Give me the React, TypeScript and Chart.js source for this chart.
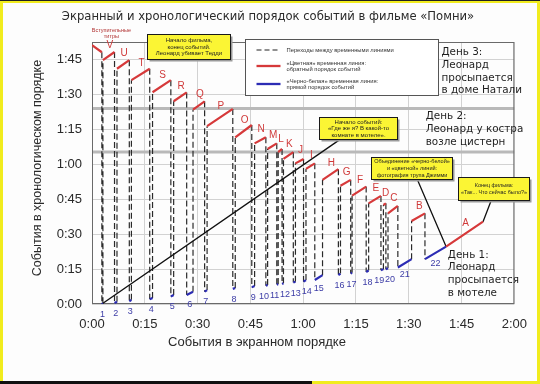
import React, { useEffect, useRef } from "react";
import { Chart, registerables } from "chart.js";

Chart.register(...registerables);

// ---------- data (minutes) ----------
const xTickValues = [0, 15, 30, 45, 60, 75, 90, 105, 120];
const yTickValues = [0, 15, 30, 45, 60, 75, 90, 105];

const creditsScreen = [0, 2.8];
const creditsChrono = [111.3, 108.3];

const colorLabels = ["V", "U", "T", "S", "R", "Q", "P", "O", "N", "M", "L", "K", "J", "I", "H", "G", "F", "E", "D", "C", "B", "A"];
const colorScreenStart = [3.1, 7.1, 11.2, 17.2, 23.2, 28.7, 32.7, 40.7, 46.2, 49.9, 52.9, 54.4, 57.8, 60.8, 65.5, 70.6, 73.9, 78.6, 82.8, 84.1, 90.8, 100.6];
const colorScreenEnd = [6.4, 10.6, 16.4, 22.4, 26.9, 32.0, 40.0, 45.4, 49.4, 52.5, 54.0, 57.2, 60.1, 63.3, 70.0, 73.5, 77.9, 82.1, 83.5, 86.9, 94.6, 111.1];
const colorChronoStart = [104.9, 101.2, 96.3, 91.1, 87.2, 83.6, 76.5, 71.7, 69.1, 66.7, 65.3, 62.4, 60.5, 58.1, 53.4, 50.9, 46.6, 43.3, 42.6, 39.0, 35.7, 24.7];
const colorChronoEnd = [108.4, 104.9, 101.2, 96.3, 91.0, 87.2, 83.9, 77.0, 71.7, 69.1, 66.7, 65.3, 62.4, 60.5, 58.0, 53.4, 50.5, 46.5, 43.3, 42.2, 39.0, 35.4];

const bwLabels = ["1", "2", "3", "4", "5", "6", "7", "8", "9", "10", "11", "12", "13", "14", "15", "16", "17", "18", "19", "20", "21", "22"];
const bwScreenStart = [2.8, 6.4, 10.6, 16.4, 22.4, 26.9, 32.0, 40.0, 45.4, 49.4, 52.5, 54.0, 57.2, 60.1, 63.3, 70.0, 73.5, 77.9, 82.1, 83.5, 86.9, 94.6];
const bwScreenEnd = [3.1, 7.1, 11.2, 17.2, 23.2, 28.7, 32.7, 40.7, 46.2, 49.9, 52.9, 54.4, 57.8, 60.8, 65.5, 70.6, 73.9, 78.6, 82.8, 84.1, 90.8, 100.6];
const bwChronoStart = [0, 0.4, 1.2, 2.0, 3.2, 3.9, 5.3, 6.5, 7.2, 7.9, 8.3, 8.6, 9.2, 9.6, 10.3, 12.4, 13.1, 13.8, 14.5, 15.0, 15.7, 19.3];
const bwChronoEnd = [0.3, 1.0, 1.8, 2.6, 3.9, 5.3, 6.0, 6.9, 7.7, 8.2, 8.6, 8.9, 9.6, 10.3, 12.4, 13.1, 13.4, 14.4, 15.0, 15.4, 19.3, 24.7];

const daySeparators = [84.1, 65.4];

// pointer lines of the callouts: [screen, chrono] pairs
const pointerStartScreen = [2.8, 92.4, 113.5];
const pointerStartChrono = [0, 53.7, 44.8];
const pointerEndScreen = [70.3, 100.6, 111.1];
const pointerEndChrono = [70.6, 24.7, 35.4];

// ---------- helpers ----------
const fmt = (m: number) => `${Math.floor(m / 60)}:${String(Math.round(m % 60)).padStart(2, "0")}`;

type P = { x: number; y: number | null };

function buildRed(): P[] {
  const pts: P[] = [];
  pts.push({ x: creditsScreen[0], y: creditsChrono[0] }, { x: creditsScreen[1], y: creditsChrono[1] }, { x: creditsScreen[1], y: null });
  colorLabels.forEach((_, i) => {
    pts.push({ x: colorScreenStart[i], y: colorChronoStart[i] }, { x: colorScreenEnd[i], y: colorChronoEnd[i] }, { x: colorScreenEnd[i], y: null });
  });
  return pts;
}

function buildBlue(): P[] {
  const pts: P[] = [];
  bwLabels.forEach((_, i) => {
    pts.push({ x: bwScreenStart[i], y: bwChronoStart[i] }, { x: bwScreenEnd[i], y: bwChronoEnd[i] }, { x: bwScreenEnd[i], y: null });
  });
  return pts;
}

function buildTransitions(): P[] {
  const pts: P[] = [];
  bwLabels.forEach((_, i) => {
    const prevEndX = i === 0 ? creditsScreen[1] : colorScreenEnd[i - 1];
    const prevEndY = i === 0 ? creditsChrono[1] : colorChronoEnd[i - 1];
    pts.push({ x: prevEndX, y: prevEndY }, { x: bwScreenStart[i], y: bwChronoStart[i] }, { x: bwScreenStart[i], y: null });
    if (i < colorLabels.length - 1) {
      pts.push({ x: bwScreenEnd[i], y: bwChronoEnd[i] }, { x: colorScreenStart[i], y: colorChronoStart[i] }, { x: colorScreenStart[i], y: null });
    }
  });
  return pts;
}

function buildPointers(): P[] {
  const pts: P[] = [];
  pointerStartScreen.forEach((_, i) => {
    pts.push({ x: pointerStartScreen[i], y: pointerStartChrono[i] }, { x: pointerEndScreen[i], y: pointerEndChrono[i] }, { x: pointerEndScreen[i], y: null });
  });
  return pts;
}

const RED = "#d6393a";
const BLUE = "#2c2cb4";
const SANS = "'Liberation Sans', Arial, sans-serif";
const DEJ = "'DejaVu Sans', sans-serif";

const overlay = {
  id: "overlay",
  beforeDatasetsDraw(chart: any) {
    const { ctx, chartArea: a, scales } = chart;
    const y = scales.y;
    ctx.save();
    ctx.strokeStyle = "#b9b9b9";
    ctx.lineWidth = 3;
    daySeparators.forEach((c) => {
      const py = y.getPixelForValue(c);
      ctx.beginPath();
      ctx.moveTo(a.left, py);
      ctx.lineTo(a.right, py);
      ctx.stroke();
    });
    ctx.strokeStyle = "#6a6a6a";
    ctx.lineWidth = 1;
    ctx.strokeRect(a.left + 0.5, a.top + 0.5, a.right - a.left - 1, a.bottom - a.top - 1);
    ctx.restore();
  },
  afterDatasetsDraw(chart: any) {
    const { ctx, scales } = chart;
    const X = (v: number) => scales.x.getPixelForValue(v);
    const Y = (v: number) => scales.y.getPixelForValue(v);
    ctx.save();

    // colour scene letters
    ctx.font = `10px ${SANS}`;
    ctx.fillStyle = "#d03a3a";
    ctx.textAlign = "center";
    ctx.textBaseline = "middle";
    colorLabels.forEach((s, i) => {
      const mx = (X(colorScreenStart[i]) + X(colorScreenEnd[i])) / 2;
      const my = (Y(colorChronoStart[i]) + Y(colorChronoEnd[i])) / 2;
      ctx.fillText(s, mx + 1, my - 11);
    });

    // b/w scene numbers (spread to avoid overlap)
    ctx.font = `9px ${SANS}`;
    ctx.fillStyle = "#3c3ca6";
    const items = bwLabels.map((s, i) => ({
      s,
      x: (X(bwScreenStart[i]) + X(bwScreenEnd[i])) / 2,
      y: (Y(bwChronoStart[i]) + Y(bwChronoEnd[i])) / 2 + 11,
      w: ctx.measureText(s).width,
    }));
    for (let it = 0; it < 40; it++) {
      for (let i = 1; i < items.length; i++) {
        const p = items[i - 1], q = items[i];
        const need = (p.w + q.w) / 2 + 0.8;
        const d = q.x - p.x;
        if (d < need && Math.abs(q.y - p.y) < 9) {
          const sh = (need - d) / 2;
          p.x -= sh;
          q.x += sh;
        }
      }
    }
    items.forEach((it) => ctx.fillText(it.s, it.x, it.y));

    // opening credits label
    ctx.font = `5.5px ${SANS}`;
    ctx.fillStyle = "#b03030";
    ctx.fillText("Вступительные", X(5.5), Y(117.6));
    ctx.fillText("титры", X(5.5), Y(115.0));

    // callouts
    const callouts = [
      { t0: 15.7, c0: 116.2, t1: 39.3, c1: 105.4, lines: ["Начало фильма,", "конец событий.", "Леонард убивает Тедди"] },
      { t0: 64.4, c0: 80.6, t1: 86.8, c1: 70.9, lines: ["Начало событий:", "«Где же я? В какой-то", "комнате в мотеле»."] },
      { t0: 79.3, c0: 63.1, t1: 102.2, c1: 53.7, lines: ["Объединение «черно-белой»", "и «цветной» линий:", "фотография трупа Джимми"] },
      { t0: 103.9, c0: 54.5, t1: 124.3, c1: 44.8, lines: ["Конец фильма:", "«Так... Что сейчас было?»"] },
    ];
    callouts.forEach((c) => {
      const x0 = Math.round(X(c.t0)) + 0.5, y0 = Math.round(Y(c.c0)) + 0.5;
      const x1 = Math.round(X(c.t1)) + 0.5, y1 = Math.round(Y(c.c1)) + 0.5;
      ctx.fillStyle = "#9a9a9a";
      ctx.fillRect(x0 + 2, y0 + 2, x1 - x0, y1 - y0);
      ctx.fillStyle = "#fbf534";
      ctx.fillRect(x0, y0, x1 - x0, y1 - y0);
      ctx.strokeStyle = "#1a1a1a";
      ctx.lineWidth = 1;
      ctx.strokeRect(x0, y0, x1 - x0, y1 - y0);
      ctx.fillStyle = "#222";
      ctx.textAlign = "center";
      let size = 6;
      ctx.font = `${size}px ${SANS}`;
      const maxW = Math.max(...c.lines.map((l) => ctx.measureText(l).width));
      const avail = x1 - x0 - 5;
      if (maxW > avail) {
        size = (size * avail) / maxW;
        ctx.font = `${size}px ${SANS}`;
      }
      const lh = 6.6;
      const cy = (y0 + y1) / 2 - ((c.lines.length - 1) * lh) / 2;
      c.lines.forEach((l, k) => ctx.fillText(l, (x0 + x1) / 2, cy + k * lh));
    });

    // legend box
    const lx0 = Math.round(X(43.4)) + 0.5, ly0 = Math.round(Y(114.0)) + 0.5;
    const lx1 = Math.round(X(98.3)) + 0.5, ly1 = Math.round(Y(90.1)) + 0.5;
    ctx.fillStyle = "#ffffff";
    ctx.fillRect(lx0, ly0, lx1 - lx0, ly1 - ly0);
    ctx.strokeStyle = "#555";
    ctx.lineWidth = 1;
    ctx.strokeRect(lx0, ly0, lx1 - lx0, ly1 - ly0);
    const rows = [
      { color: "#222", dash: [5, 3], width: 1.2, dy: 10.5, lines: ["Переходы между временными линиями"] },
      { color: RED, dash: [], width: 2.3, dy: 26.5, lines: ["«Цветная» временная линия:", "обратный порядок событий"] },
      { color: BLUE, dash: [], width: 2.3, dy: 44.5, lines: ["«Черно-белая» временная линия:", "прямой порядок событий"] },
    ];
    rows.forEach((r) => {
      const yy = ly0 + r.dy;
      ctx.strokeStyle = r.color;
      ctx.lineWidth = r.width;
      ctx.setLineDash(r.dash);
      ctx.beginPath();
      ctx.moveTo(lx0 + 11, yy);
      ctx.lineTo(lx0 + 35, yy);
      ctx.stroke();
      ctx.setLineDash([]);
      ctx.fillStyle = "#333";
      ctx.font = `5.8px ${SANS}`;
      ctx.textAlign = "left";
      const lh = 6.2;
      const cy = yy - ((r.lines.length - 1) * lh) / 2;
      r.lines.forEach((l, k) => ctx.fillText(l, lx0 + 41, cy + k * lh));
    });

    // day captions
    ctx.fillStyle = "#1e1e1e";
    ctx.font = `10.4px ${DEJ}`;
    ctx.textAlign = "left";
    const days = [
      { t: 99.3, c: 108.3, lines: ["День 3:", "Леонард", "просыпается", "в доме Натали"] },
      { t: 94.8, c: 80.6, lines: ["День 2:", "Леонард у костра", "возле цистерн"] },
      { t: 101.1, c: 21.1, lines: ["День 1:", "Леонард", "просыпается", "в мотеле"] },
    ];
    days.forEach((d) => {
      d.lines.forEach((l, k) => ctx.fillText(l, X(d.t), Y(d.c) + k * 12.8));
    });
    ctx.restore();
  },
  afterDraw(chart: any) {
    const { ctx } = chart;
    ctx.save();
    ctx.fillStyle = "#2a2a2a";
    ctx.textBaseline = "middle";
    ctx.textAlign = "center";
    ctx.font = `11.6px ${DEJ}`;
    ctx.fillText("Экранный и хронологический порядок событий в фильме «Помни»", 268, 17);
    ctx.font = `13px ${SANS}`;
    ctx.fillText("События в экранном порядке", 257, 342);
    ctx.translate(38, 168);
    ctx.rotate(-Math.PI / 2);
    ctx.font = `12.5px ${SANS}`;
    ctx.fillText("События в хронологическом порядке", 0, 0);
    ctx.restore();
  },
};

export default function App() {
  const ref = useRef<HTMLCanvasElement>(null);
  useEffect(() => {
    const chart = new Chart(ref.current as HTMLCanvasElement, {
      type: "line",
      data: {
        datasets: [
          { label: "color", data: buildRed() as any, borderColor: RED, borderWidth: 2.2, pointRadius: 0, spanGaps: false, tension: 0 },
          { label: "bw", data: buildBlue() as any, borderColor: BLUE, borderWidth: 2.2, pointRadius: 0, spanGaps: false, tension: 0 },
          { label: "pointers", data: buildPointers() as any, borderColor: "#111", borderWidth: 1.3, pointRadius: 0, spanGaps: false, tension: 0 },
          { label: "transitions", data: buildTransitions() as any, borderColor: "#2a2a2a", borderWidth: 1.2, borderDash: [6, 3], pointRadius: 0, spanGaps: false, tension: 0 },
        ],
      },
      options: {
        animation: false,
        responsive: false,
        devicePixelRatio: 1,
        layout: { padding: { top: 42, right: 17, left: 0, bottom: 0 } },
        plugins: { legend: { display: false }, tooltip: { enabled: false } },
        scales: {
          x: {
            type: "linear",
            min: 0,
            max: 120,
            afterFit: (s: any) => { s.height = 80; },
            afterBuildTicks: (s: any) => { s.ticks = xTickValues.map((v) => ({ value: v })); },
            ticks: { callback: (v: any) => fmt(Number(v)), font: { family: SANS, size: 13 }, color: "#2a2a2a", padding: 13, maxRotation: 0, autoSkip: false },
            grid: { color: "#d2d2d2", lineWidth: 1, drawTicks: false },
            border: { display: false },
          },
          y: {
            type: "linear",
            min: 0,
            max: 112.7,
            afterFit: (s: any) => { s.width = 92; },
            afterBuildTicks: (s: any) => { s.ticks = yTickValues.map((v) => ({ value: v })); },
            ticks: { callback: (v: any) => fmt(Number(v)), font: { family: SANS, size: 13 }, color: "#2a2a2a", padding: 10, autoSkip: false },
            grid: { color: "#d2d2d2", lineWidth: 1, drawTicks: false },
            border: { display: false },
          },
        },
      },
      plugins: [overlay],
    } as any);
    return () => chart.destroy();
  }, []);

  return (
    <div style={{ position: "fixed", left: 0, top: 0, width: 540, height: 384, background: "#f1ec1e", overflow: "hidden" }}>
      <div style={{ position: "absolute", left: 0, top: 0, width: 540, height: 1, background: "#222" }} />
      <div style={{ position: "absolute", left: 3, top: 3, right: 3, bottom: 3, background: "#fdfdfd" }} />
      <div style={{ position: "absolute", left: 0, bottom: 0, width: 312, height: 3, background: "#111" }} />
      <canvas ref={ref} width={540} height={384} style={{ position: "absolute", left: 0, top: 0, width: 540, height: 384 }} />
    </div>
  );
}
